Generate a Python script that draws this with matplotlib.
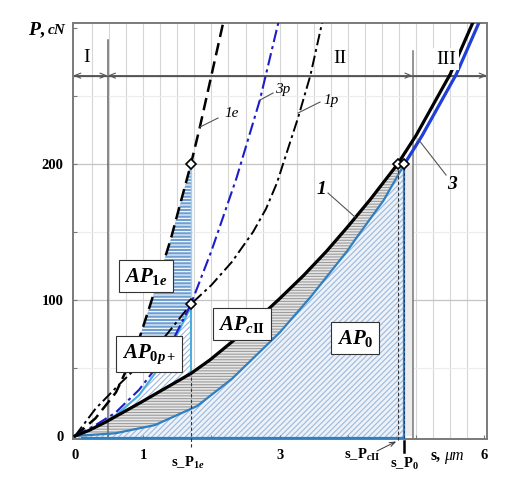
import numpy as np
import matplotlib
matplotlib.use('Agg')
import matplotlib.pyplot as plt
from matplotlib.patches import Polygon

plt.rcParams['font.family'] = ['Liberation Serif', 'DejaVu Serif']
plt.rcParams['mathtext.fontset'] = 'custom'
plt.rcParams['mathtext.rm'] = 'Liberation Serif:bold'
plt.rcParams['mathtext.it'] = 'Liberation Serif:bold:italic'
plt.rcParams['mathtext.bf'] = 'Liberation Serif:bold'
plt.rcParams['hatch.linewidth'] = 0.8

# ---------------- data ----------------
# curve 1 (black solid)
s_1 = [0, 0.20, 0.44, 0.94, 1.32, 1.70, 1.98, 2.32, 2.70, 3.00, 3.35, 3.69, 4.00, 4.33, 4.73, 5.00, 5.50, 5.85]
P_1 = [0, 4, 10, 24, 35, 46, 56, 70, 87, 101, 118, 136, 154, 174, 200, 221, 266, 306]
# curve 3 (blue): lower boundary of AP0, then thick blue continuation
s_3 = [0, 0.59, 1.17, 1.79, 2.30, 2.65, 3.00, 3.45, 3.99, 4.13, 4.52, 4.83]
P_3 = [0, 2, 8, 22, 42, 59, 76, 102, 136, 146, 173, 200]
s_3u = [4.83, 5.09, 5.59, 5.94]
P_3u = [200, 221, 266, 306]
# curve 1e (black dashed)
s_1e = [0, 0.30, 0.60, 0.88, 1.10, 1.40, 1.70, 1.83, 2.20]
P_1e = [0, 13, 32, 62, 96, 144, 200, 227, 310]
# curve 1p (black dash-dot)
s_1p = [0, 0.30, 0.65, 1.00, 1.35, 1.70, 2.00, 2.30, 2.61, 2.80, 2.96, 3.27, 3.45, 3.65]
P_1p = [0, 20, 38, 55, 75, 97, 111, 128, 150, 167, 186, 234, 265, 310]
# curve 3p (blue dash-dot)
s_3p = [0, 0.30, 0.59, 0.94, 1.20, 1.47, 1.70, 2.00, 2.37, 2.71, 3.01]
P_3p = [0, 8, 17, 34, 51, 74, 97, 136, 190, 247, 310]
# light-blue boundary of AP0p+
s_c = [0.43, 0.59, 0.94, 1.20, 1.47, 1.70]
P_c = [10, 15, 30, 48, 72, 95]
# characteristic displacements
s_P1e = 1.70
s_PcII = 4.73
s_P0 = 4.83
s_I = 0.48
s_III = 4.95

xticks = [0, 1, 2, 3, 4, 5, 6]
xticklabels = ['0', '1', '', '3', '', '', '6']
yticks = [0, 50, 100, 150, 200, 250, 300]
yticklabels = ['0', '', '100', '', '200', '', '']

# ---------------- figure ----------------
W, H = 517, 486
fig = plt.figure(figsize=(W / 100, H / 100), dpi=100)
ax = fig.add_axes([73 / W, (H - 439) / H, 414 / W, 416 / H])
XL = (-0.029, 6.04)
YL = (-2.2, 303.7)
ax.set_xlim(*XL)
ax.set_ylim(*YL)


def px(xp, yp):
    return ((xp - 75) / 68.2, (436 - yp) / 1.36)


# grid
for g in np.arange(0.25, 6.0, 0.25):
    ax.axvline(g, color='#d6d6d6', lw=0.8, zorder=0.5)
for g in [50, 150, 250]:
    ax.axhline(g, color='#ececec', lw=0.8, zorder=0.5)
for g in [100, 200]:
    ax.axhline(g, color='#c4c4c4', lw=0.9, zorder=0.5)

for sp in ax.spines.values():
    sp.set_color('#7a7a7a')
    sp.set_linewidth(1.4)

ax.set_xticks(xticks)
ax.set_xticklabels(xticklabels, fontweight='bold', fontsize=10.5)
ax.set_yticks(yticks)
ax.set_yticklabels(yticklabels, fontweight='bold', fontsize=10.5)
ax.tick_params(axis='both', direction='in', length=3, color='#777', pad=7)

# ---------------- filled areas ----------------
# AP0
poly0 = list(zip(s_3, P_3)) + [(s_P0, -1.5), (0, -1.5)]
ax.add_patch(Polygon(poly0, closed=True, facecolor='#edf2f9', edgecolor='#9db9db',
                     hatch='//////', lw=0, zorder=1))
# light band right of AP0
ax.fill_betweenx([0, 200], s_P0, s_III, color='#ececec', lw=0, zorder=0.8)
# APcII
i1 = s_1.index(s_PcII)
polyc = list(zip(s_1[:i1 + 1], P_1[:i1 + 1])) + list(zip(s_3[::-1], P_3[::-1]))
ax.add_patch(Polygon(polyc, closed=True, facecolor='#e6e6e6', edgecolor='#9c9c9c',
                     hatch='------', lw=0, zorder=1))
# AP0p+
ib = s_1.index(s_P1e)
ia = s_1.index(0.44)
polyp = list(zip(s_c, P_c)) + [(s_P1e, P_1[ib])] + list(zip(s_1[ib:ia - 1:-1], P_1[ib:ia - 1:-1]))
ax.add_patch(Polygon(polyp, closed=True, facecolor='white', edgecolor='#9db9db',
                     hatch='//////', lw=0, zorder=1.2))
# AP1e
Pcut = 72
x1e_cut = np.interp(Pcut, P_1e, s_1e)
x3p_cut = np.interp(Pcut, P_3p, s_3p)
i1e = [k for k in range(len(s_1e)) if Pcut < P_1e[k] <= 200]
i3p = [k for k in range(len(s_3p)) if Pcut < P_3p[k] < 97]
poly1e = ([(x1e_cut, Pcut)] + [(s_1e[k], P_1e[k]) for k in i1e] + [(s_P1e, 97)]
          + [(s_3p[k], P_3p[k]) for k in i3p[::-1]] + [(x3p_cut, Pcut)])
ax.add_patch(Polygon(poly1e, closed=True, facecolor='#6f9ed0', edgecolor='white',
                     hatch='-----', lw=0, zorder=1.3))

# ---------------- curves ----------------
ax.plot(s_3, P_3, color='#2f7fc1', lw=1.6, zorder=3)
ax.plot([0.1, s_P0], [-1.5, -1.5], color='#2f7fc1', lw=1.6, zorder=3, clip_on=False)
ax.plot([s_P0, s_P0], [-1.5, 200], color='#2f7fc1', lw=1.6, zorder=3)
ax.plot([s_P0, s_P0], [-1.5, 200], color='#1a3a6a', lw=0.7, dashes=(3, 2), zorder=3.1)
ax.plot(s_3u, P_3u, color='#1f3fd6', lw=2.3, zorder=3.5)
ax.plot(s_1, P_1, color='black', lw=2.3, zorder=4)
ax.plot(s_1e, P_1e, color='black', lw=1.8, dashes=(5, 2.5), zorder=3.6)
ax.plot(s_1p, P_1p, color='black', lw=1.4, dashes=(6, 2, 1.5, 2), zorder=3.6)
ax.plot(s_3p, P_3p, color='#1c1cc8', lw=1.5, dashes=(6, 2, 1.5, 2), zorder=3.6)
ax.plot(s_c, P_c, color='#4aaee0', lw=1.5, zorder=3.4)
ax.plot([s_P1e, s_P1e], [P_1[ib], 97], color='#4aaee0', lw=1.5, zorder=3.4)
ax.plot([s_P1e, s_P1e], [97, 200], color='#9fd0ee', lw=1.0, zorder=3.4)

# characteristic vertical dashed lines
ax.plot([s_P1e, s_P1e], [-8, P_1[ib]], color='#333', lw=0.8, dashes=(3, 2), zorder=3, clip_on=False)
ax.plot([s_PcII, s_PcII], [-3, 200], color='#333', lw=0.8, dashes=(3, 2), zorder=3, clip_on=False)
ax.plot([s_P0, s_P0], [-3.5, -12], color='black', lw=1.8, zorder=3, clip_on=False)

# region boundaries and dimension line
ax.plot([s_I, s_I], [YL[0], 291], color='#666', lw=1.1, zorder=2)
ax.plot([s_III, s_III], [YL[0], 283], color='#777', lw=1.1, zorder=2)
ydim = 265
ax.plot([XL[0], XL[1]], [ydim, ydim], color='#555', lw=0.9, zorder=2)
aps = dict(lw=0.8, color='#555', shrinkA=0, shrinkB=0)
ax.annotate('', xy=(XL[0], ydim), xytext=(s_I, ydim),
            arrowprops=dict(arrowstyle='<->,head_length=0.45,head_width=0.18', **aps))
ax.annotate('', xy=(s_I, ydim), xytext=(s_III, ydim),
            arrowprops=dict(arrowstyle='<->,head_length=0.45,head_width=0.18', **aps))
ax.annotate('', xy=(s_III, ydim), xytext=(XL[1], ydim),
            arrowprops=dict(arrowstyle='<-,head_length=0.45,head_width=0.18', **aps))
ax.text(*px(87, 57), 'I', fontsize=14, ha='center', va='center', zorder=6)
ax.text(*px(340, 58), 'II', fontsize=14, ha='center', va='center', zorder=6)
ax.text(*px(446, 59), 'III', fontsize=14, ha='center', va='center', zorder=6,
        bbox=dict(boxstyle='square,pad=0.15', fc='white', ec='none'))

# diamonds
mk = dict(marker='D', ms=5.5, mfc='white', mec='black', mew=1.2, ls='none', zorder=7)
ax.plot([s_1e[6]], [P_1e[6]], **mk)
ax.plot([s_3p[6]], [P_3p[6]], **mk)
ax.plot([s_1[i1]], [P_1[i1]], **mk)
ax.plot([s_3[-1]], [P_3[-1]], **mk)

# area labels
bb = dict(boxstyle='square,pad=0.28', fc='white', ec='#333', lw=0.8)
ax.text(*px(146, 276), r'$AP_{1e}$', fontsize=15, ha='center', va='center', bbox=bb, zorder=6)
ax.text(*px(149, 354), r'$AP_{0p+}$', fontsize=15, ha='center', va='center', bbox=bb, zorder=6)
ax.text(*px(242, 324), r'$AP_{c\mathrm{II}}$', fontsize=15, ha='center', va='center', bbox=bb, zorder=6)
ax.text(*px(355, 338), r'$AP_{0}$', fontsize=15, ha='center', va='center', bbox=bb, zorder=6)

# curve labels with leaders
lead = dict(color='#555', lw=0.8)
ax.plot(*zip(px(200, 127), px(218, 118)), zorder=5, **lead)
ax.text(*px(224, 113), '1e', fontsize=11, fontstyle='italic', ha='left', va='center', zorder=6)
ax.plot(*zip(px(260, 100), px(273, 93)), zorder=5, **lead)
ax.text(*px(275, 89), '3p', fontsize=11, fontstyle='italic', ha='left', va='center', zorder=6)
ax.plot(*zip(px(298, 113), px(320, 102)), zorder=5, **lead)
ax.text(*px(323, 100), '1p', fontsize=11, fontstyle='italic', ha='left', va='center', zorder=6)
ax.plot(*zip(px(328, 193), px(355, 217)), zorder=5, **lead)
ax.text(*px(321, 189), '1', fontsize=14, fontstyle='italic', fontweight='bold',
        ha='center', va='center', zorder=6)
ax.plot(*zip(px(418, 139), px(446, 175)), zorder=5, **lead)
ax.text(*px(452, 184), '3', fontsize=14, fontstyle='italic', fontweight='bold',
        ha='center', va='center', zorder=6)

# axis titles and s-labels
ax.text(*px(46, 30), r'$P,$', fontsize=14, ha='right', va='center', clip_on=False)
ax.text(*px(48, 30), 'cN', fontsize=11, fontstyle='italic', fontweight='bold',
        ha='left', va='center', clip_on=False)
ax.text(*px(441, 456), 's,', fontsize=11.5, fontweight='bold', ha='right', va='center', clip_on=False)
ax.text(*px(444, 456), 'μm', fontsize=11.5, fontstyle='italic', ha='left', va='center', clip_on=False)
ax.text(*px(188, 463), r'$\mathbf{s\_P}_{1e}$', fontsize=10.5, ha='center', va='center', clip_on=False)
ax.text(*px(362, 455), r'$\mathbf{s\_P}_{c\mathrm{II}}$', fontsize=10.5, ha='center', va='center', clip_on=False)
ax.text(*px(404, 464), r'$\mathbf{s\_P}_{0}$', fontsize=10.5, ha='center', va='center', clip_on=False)
ax.annotate('', xy=(s_PcII - 0.02, -4), xytext=px(377, 451), annotation_clip=False,
            arrowprops=dict(arrowstyle='->,head_length=0.4,head_width=0.15', lw=0.7,
                            color='#333', shrinkA=0, shrinkB=0))

fig.savefig('out.png', dpi=100)
